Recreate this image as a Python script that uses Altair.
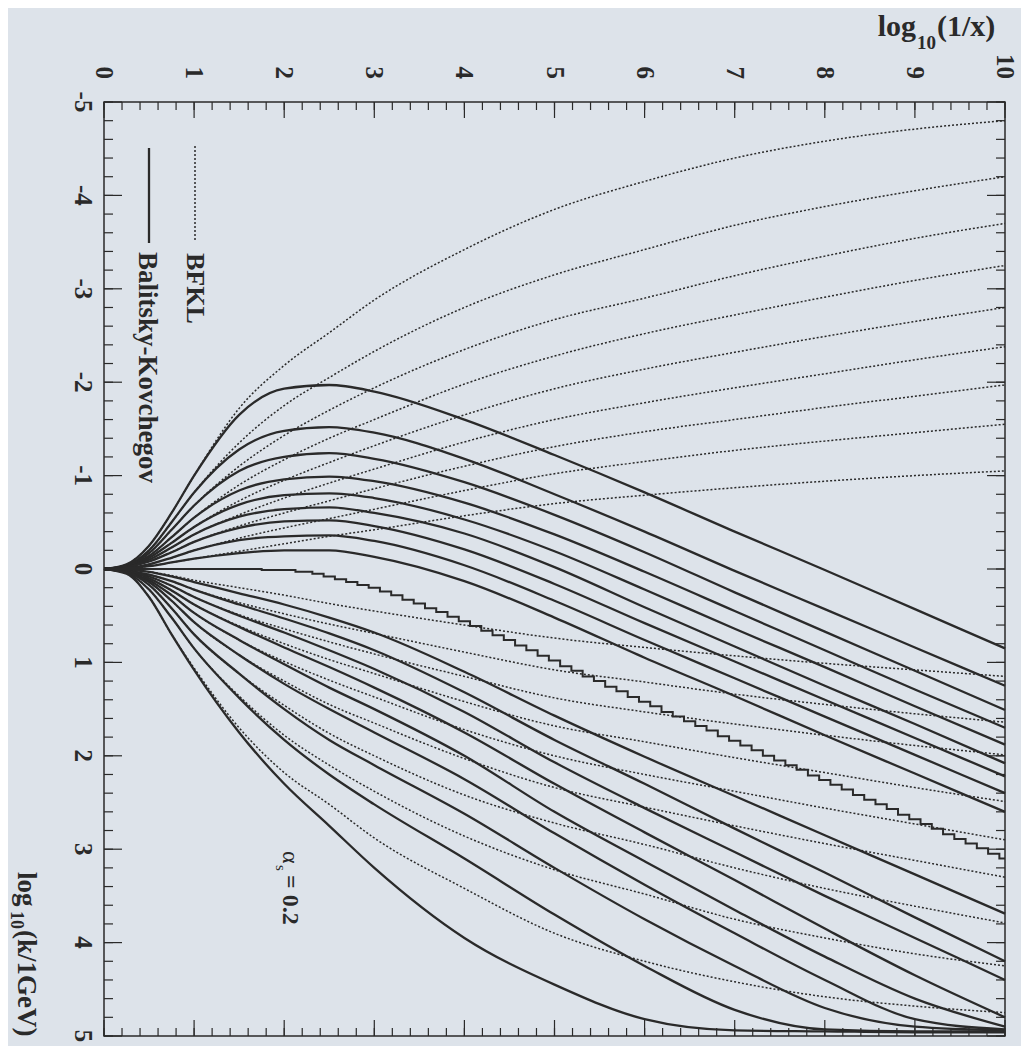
import altair as alt
import pandas as pd

# ---------------- data ----------------
XG = [0, 0.25, 0.5, 0.75, 1, 1.5, 2, 2.5, 3, 4, 5, 6, 7, 8, 9, 10]

# Balitsky-Kovchegov, upper family (turn back towards large k)
BK_UP = [
    [0, -0.05, -0.25, -0.60, -1.00, -1.65, -1.93, -1.97, -1.90, -1.60, -1.22, -0.82, -0.40, 0.01, 0.43, 0.85],
    [0, -0.04, -0.20, -0.50, -0.82, -1.28, -1.48, -1.52, -1.46, -1.18, -0.80, -0.40, 0.02, 0.43, 0.84, 1.25],
    [0, -0.03, -0.17, -0.42, -0.68, -1.05, -1.20, -1.24, -1.18, -0.93, -0.58, -0.18, 0.25, 0.67, 1.09, 1.51],
    [0, -0.03, -0.14, -0.34, -0.55, -0.84, -0.96, -0.99, -0.94, -0.71, -0.37, 0.03, 0.45, 0.87, 1.29, 1.70],
    [0, -0.02, -0.12, -0.28, -0.45, -0.69, -0.79, -0.81, -0.76, -0.53, -0.19, 0.22, 0.64, 1.05, 1.47, 1.88],
    [0, -0.02, -0.10, -0.23, -0.37, -0.56, -0.64, -0.66, -0.60, -0.38, -0.02, 0.41, 0.83, 1.25, 1.66, 2.08],
    [0, -0.02, -0.08, -0.18, -0.29, -0.44, -0.51, -0.52, -0.46, -0.21, 0.16, 0.58, 0.99, 1.40, 1.81, 2.22],
    [0, -0.01, -0.05, -0.12, -0.20, -0.31, -0.35, -0.36, -0.30, -0.04, 0.34, 0.76, 1.17, 1.58, 1.99, 2.40],
    [0, -0.01, -0.03, -0.07, -0.11, -0.17, -0.20, -0.20, -0.13, 0.13, 0.52, 0.95, 1.36, 1.78, 2.19, 2.60],
]

# Balitsky-Kovchegov, lower family
BK_LO = [
    [0, 0.01, 0.03, 0.08, 0.14, 0.26, 0.38, 0.52, 0.68, 1.10, 1.57, 2.01, 2.43, 2.85, 3.27, 3.69],
    [0, 0.02, 0.06, 0.13, 0.22, 0.38, 0.53, 0.69, 0.87, 1.32, 1.83, 2.30, 2.78, 3.25, 3.73, 4.20],
    [0, 0.02, 0.08, 0.18, 0.30, 0.50, 0.68, 0.87, 1.07, 1.53, 2.07, 2.56, 3.03, 3.50, 3.95, 4.40],
    [0, 0.02, 0.10, 0.23, 0.38, 0.62, 0.84, 1.05, 1.27, 1.75, 2.30, 2.82, 3.33, 3.85, 4.35, 4.80],
    [0, 0.03, 0.12, 0.28, 0.47, 0.76, 1.02, 1.27, 1.50, 2.00, 2.60, 3.13, 3.65, 4.15, 4.60, 4.90],
    [0, 0.03, 0.14, 0.34, 0.57, 0.92, 1.23, 1.50, 1.75, 2.25, 2.83, 3.38, 3.90, 4.40, 4.82, 4.93],
    [0, 0.03, 0.17, 0.42, 0.70, 1.12, 1.50, 1.83, 2.10, 2.62, 3.20, 3.75, 4.25, 4.70, 4.90, 4.94],
    [0, 0.04, 0.22, 0.52, 0.85, 1.38, 1.83, 2.20, 2.52, 3.10, 3.70, 4.25, 4.72, 4.93, 4.95, 4.95],
    [0, 0.05, 0.30, 0.70, 1.08, 1.75, 2.30, 2.75, 3.20, 3.95, 4.45, 4.82, 4.94, 4.95, 4.96, 4.96],
]

# BFKL, upper family
BFKL_UP = [
    [0, -0.05, -0.25, -0.60, -1.00, -1.72, -2.18, -2.53, -2.88, -3.42, -3.85, -4.15, -4.40, -4.58, -4.71, -4.80],
    [0, -0.04, -0.20, -0.50, -0.82, -1.35, -1.75, -2.05, -2.33, -2.80, -3.15, -3.42, -3.68, -3.88, -4.05, -4.20],
    [0, -0.03, -0.17, -0.42, -0.68, -1.10, -1.43, -1.70, -1.94, -2.35, -2.67, -2.90, -3.14, -3.35, -3.54, -3.70],
    [0, -0.03, -0.14, -0.34, -0.55, -0.90, -1.17, -1.40, -1.60, -1.98, -2.28, -2.52, -2.72, -2.91, -3.09, -3.25],
    [0, -0.02, -0.12, -0.28, -0.45, -0.73, -0.95, -1.14, -1.32, -1.65, -1.93, -2.14, -2.32, -2.49, -2.65, -2.80],
    [0, -0.02, -0.10, -0.23, -0.37, -0.58, -0.76, -0.92, -1.07, -1.36, -1.60, -1.78, -1.94, -2.09, -2.24, -2.38],
    [0, -0.02, -0.08, -0.18, -0.29, -0.46, -0.60, -0.73, -0.86, -1.10, -1.31, -1.47, -1.60, -1.73, -1.85, -1.97],
    [0, -0.01, -0.05, -0.12, -0.20, -0.33, -0.44, -0.54, -0.64, -0.84, -1.02, -1.15, -1.27, -1.37, -1.46, -1.55],
    [0, -0.01, -0.03, -0.07, -0.11, -0.19, -0.27, -0.35, -0.42, -0.57, -0.70, -0.79, -0.87, -0.94, -1.00, -1.05],
]

# BFKL, lower family
BFKL_LO = [
    [0, 0.01, 0.03, 0.07, 0.12, 0.20, 0.28, 0.37, 0.45, 0.60, 0.74, 0.84, 0.93, 1.01, 1.08, 1.15],
    [0, 0.02, 0.06, 0.13, 0.22, 0.36, 0.48, 0.59, 0.69, 0.89, 1.08, 1.21, 1.34, 1.45, 1.55, 1.64],
    [0, 0.02, 0.08, 0.18, 0.30, 0.49, 0.64, 0.78, 0.91, 1.15, 1.38, 1.53, 1.66, 1.78, 1.89, 1.99],
    [0, 0.02, 0.10, 0.23, 0.38, 0.61, 0.80, 0.97, 1.12, 1.42, 1.68, 1.85, 2.02, 2.18, 2.34, 2.49],
    [0, 0.03, 0.12, 0.28, 0.47, 0.76, 0.99, 1.19, 1.37, 1.72, 2.00, 2.20, 2.38, 2.56, 2.73, 2.90],
    [0, 0.03, 0.14, 0.34, 0.57, 0.92, 1.20, 1.45, 1.65, 2.03, 2.34, 2.55, 2.75, 2.94, 3.12, 3.30],
    [0, 0.03, 0.17, 0.42, 0.70, 1.12, 1.46, 1.76, 2.00, 2.42, 2.72, 2.95, 3.20, 3.42, 3.61, 3.79],
    [0, 0.04, 0.22, 0.52, 0.85, 1.36, 1.78, 2.10, 2.38, 2.86, 3.22, 3.48, 3.75, 3.95, 4.12, 4.25],
    [0, 0.05, 0.30, 0.70, 1.06, 1.70, 2.18, 2.52, 2.88, 3.42, 3.90, 4.20, 4.42, 4.58, 4.68, 4.75],
]

# BK contour that stays flat then descends in small steps
J_X = [0, 0.5, 1.0, 1.5, 2.0, 2.25, 2.375, 2.5, 2.625, 2.75, 2.875, 3.0, 3.125, 3.25, 3.375,
       3.5, 3.625, 3.75, 3.875, 4.0, 4.125, 4.25, 4.375, 4.5, 4.625, 4.75, 4.875, 5.0, 5.125,
       5.25, 5.375, 5.5, 5.625, 5.75, 5.875, 6.0, 6.125, 6.25, 6.375, 6.5, 6.625, 6.75, 6.875,
       7.0, 7.125, 7.25, 7.375, 7.5, 7.625, 7.75, 7.875, 8.0, 8.125, 8.25, 8.375, 8.5, 8.625,
       8.75, 8.875, 9.0, 9.125, 9.25, 9.375, 9.5, 9.625, 9.75, 9.875, 10.0]
J_Y = [0, 0, 0, 0, 0.01, 0.03, 0.05, 0.08, 0.11, 0.14, 0.17, 0.20, 0.24, 0.28, 0.33,
       0.37, 0.42, 0.46, 0.51, 0.56, 0.61, 0.66, 0.71, 0.76, 0.82, 0.87, 0.93, 0.98, 1.04,
       1.09, 1.15, 1.20, 1.26, 1.31, 1.37, 1.42, 1.47, 1.53, 1.58, 1.63, 1.68, 1.73, 1.79,
       1.84, 1.89, 1.94, 2.00, 2.05, 2.10, 2.15, 2.21, 2.26, 2.31, 2.36, 2.42, 2.47, 2.52,
       2.57, 2.63, 2.68, 2.73, 2.78, 2.84, 2.89, 2.94, 2.99, 3.05, 3.10]

X_LABELS = [0, 1, 2, 3, 4, 5, 6, 7, 8, 9, 10]
Y_LABELS = [-5, -4, -3, -2, -1, 0, 1, 2, 3, 4, 5]
X_MINOR = [round(i * 0.2, 1) for i in range(51)]
Y_MINOR = [round(-5 + i * 0.2, 1) for i in range(51)]

# ---------------- build tables ----------------
def long_table(families, model):
    rows = []
    for name, fam in families:
        for i, ys_ in enumerate(fam):
            for x, y in zip(XG, ys_):
                rows.append({"X": x, "Y": y, "curve": f"{name}{i}", "model": model})
    return rows

bk_df = pd.DataFrame(long_table([("bku", BK_UP), ("bkl", BK_LO)], "BK"))
bfkl_df = pd.DataFrame(long_table([("fu", BFKL_UP), ("fl", BFKL_LO)], "BFKL"))
jag_df = pd.DataFrame({"X": J_X, "Y": J_Y})

W, H = 901, 934
INK = "#2a2a2a"
SERIF = "Liberation Serif"

xs = alt.Scale(domain=[0, 10], nice=False, zero=False)
ys = alt.Scale(domain=[-5, 5], nice=False, zero=False, reverse=True)

X_ENC = alt.X("X:Q", scale=xs, axis=None)
Y_ENC = alt.Y("Y:Q", scale=ys, axis=None)

dotted = alt.Chart(bfkl_df).mark_line(
    strokeDash=[2, 2], strokeWidth=1.5, color=INK, interpolate="monotone"
).encode(x=X_ENC, y=Y_ENC, detail="curve:N")

solid = alt.Chart(bk_df).mark_line(
    strokeWidth=2.3, color=INK, interpolate="monotone"
).encode(x=X_ENC, y=Y_ENC, detail="curve:N")

jagged = alt.Chart(jag_df).mark_line(
    strokeWidth=2.0, color=INK, interpolate="step"
).encode(x=X_ENC, y=Y_ENC)

# inward ticks on all four sides
def xticks(vals, y0, y1):
    return alt.Chart(pd.DataFrame({"t": vals})).mark_rule(color=INK, strokeWidth=1.2).encode(
        x=alt.X("t:Q", scale=xs, axis=None), y=alt.value(y0), y2=alt.value(y1))

def yticks(vals, x0, x1):
    return alt.Chart(pd.DataFrame({"t": vals})).mark_rule(color=INK, strokeWidth=1.2).encode(
        y=alt.Y("t:Q", scale=ys, axis=None), x=alt.value(x0), x2=alt.value(x1))

ticks = [
    xticks(X_MINOR, 0, 8), xticks(X_LABELS, 0, 16),
    xticks(X_MINOR, H - 8, H), xticks(X_LABELS, H - 16, H),
    yticks(Y_MINOR, 0, 9), yticks(Y_LABELS, 0, 18),
    yticks(Y_MINOR, W - 9, W), yticks(Y_LABELS, W - 18, W),
]

# tick labels (rotated, as in the reference)
xlab = alt.Chart(pd.DataFrame({"v": X_LABELS, "s": [str(v) for v in X_LABELS]})).mark_text(
    angle=90, align="right", baseline="middle", font=SERIF, fontWeight="bold",
    fontSize=25, color=INK
).encode(x=alt.X("v:Q", scale=xs, axis=None), y=alt.value(-23), text="s:N")

ylab = alt.Chart(pd.DataFrame({"v": Y_LABELS, "s": [str(v) for v in Y_LABELS]})).mark_text(
    angle=90, align="center", baseline="top", font=SERIF, fontWeight="bold",
    fontSize=25, color=INK
).encode(y=alt.Y("v:Q", scale=ys, axis=None), x=alt.value(-9), text="s:N")

# legend
leg_solid = alt.Chart(pd.DataFrame({"a": [0]})).mark_rule(color=INK, strokeWidth=2.3).encode(
    x=alt.value(45), y=alt.value(46), y2=alt.value(141))
leg_dot = alt.Chart(pd.DataFrame({"a": [0]})).mark_rule(
    color=INK, strokeWidth=1.5, strokeDash=[2, 2]).encode(
    x=alt.value(91), y=alt.value(44), y2=alt.value(138))

def label(text, x, y, size, angle=0, align="left", baseline="middle", weight="bold", font=SERIF):
    return alt.Chart(pd.DataFrame({"a": [0]})).mark_text(
        text=text, angle=angle, align=align, baseline=baseline, fontSize=size,
        fontWeight=weight, font=font, color=INK
    ).encode(x=alt.value(x), y=alt.value(y))

texts = [
    label("Balitsky-Kovchegov", 43, 150, 27, angle=90),
    label("BFKL", 91, 151, 26, angle=90),
    label("\u03b1", 186, 749, 24, angle=90, weight="normal"),
    label("s", 177, 763, 15, angle=90, weight="normal"),
    label("= 0.2", 186, 773, 24, angle=90, weight="bold"),
    label("log", 812, -66, 30, align="right", baseline="alphabetic"),
    label("10", 813, -53, 19, baseline="alphabetic"),
    label("(1/x)", 833, -66, 30, baseline="alphabetic"),
    label("log", -78, 770, 27, angle=90, align="left", baseline="middle"),
    label("10", -88, 809, 18, angle=90, align="left", baseline="middle"),
    label("(k/1GeV)", -78, 828, 27, angle=90, align="left", baseline="middle"),
]

chart = alt.layer(
    dotted, solid, jagged, *ticks, xlab, ylab, leg_solid, leg_dot, *texts
).properties(
    width=W, height=H,
    autosize=alt.AutoSizeParams(type="none"),
    padding={"left": 96, "top": 94, "right": 16, "bottom": 10},
).configure(
    background="#dde3ea"
).configure_view(
    stroke=INK, strokeWidth=1.5
)

chart.save("out.html", embed_options={"renderer": "svg", "actions": False})
